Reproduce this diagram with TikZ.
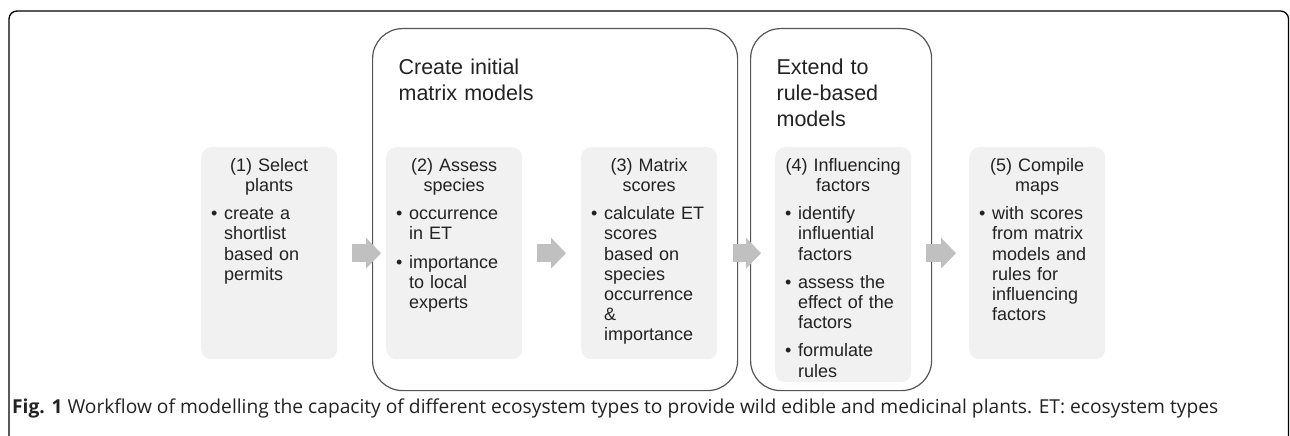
\documentclass[tikz,border=0pt]{standalone}
\usepackage{fontspec}
\setmainfont{Liberation Sans}
\newfontfamily\capfont{Open Sans}
\usetikzlibrary{arrows.meta}
\definecolor{boxgray}{HTML}{F1F1F1}
\definecolor{arrowgray}{HTML}{C0C0C0}
\definecolor{linegray}{HTML}{555555}
\definecolor{textgray}{HTML}{222222}
\newcommand{\bpoint}[1]{\par\vspace{8pt}\noindent\makebox[13pt][l]{\textbullet}\parbox[t]{103pt}{#1\strut}\par\prevdepth=\dp\strutbox}

\begin{document}
\begin{tikzpicture}[x=1pt,y=-1pt,
  stepbox/.style={fill=boxgray,rounded corners=10pt,anchor=north west,
    text width=116pt,inner xsep=10pt,inner ysep=8pt,text height=16pt,text depth=180pt,
    text=textgray,font=\fontsize{18pt}{20.2pt}\selectfont},
  groupbox/.style={draw=linegray,line width=1.2pt,rounded corners=30pt,anchor=north west,
    inner xsep=26pt,inner ysep=26pt,text height=20pt,align=left,
    text=textgray,font=\fontsize{21.5pt}{26pt}\selectfont},
  flow/.style={arrowgray,line width=18pt,-{Triangle[length=15pt,width=31pt,line width=0pt]}}]
  \useasboundingbox (0,0) rectangle (1290,436);
  \draw[line width=1.3pt,rounded corners=8pt] (9,437) -- (9,11) -- (1288.5,11) -- (1288.5,437);
  \node[groupbox,text width=313pt,text depth=290pt] (g1) at (372,28) {Create initial\\matrix models};
  \node[groupbox,text width=129pt,text depth=290pt] (g2) at (750,28) {Extend to\\rule-based\\models};
  \node[stepbox] (s1) at (201,147) {{\centering (1) Select\\plants\par}
    \bpoint{create a\\shortlist\\based on\\permits}};
  \node[stepbox] (s2) at (386,147) {{\centering (2) Assess\\species\par}
    \bpoint{occurrence\\in ET}
    \bpoint{importance\\to local\\experts}};
  \node[stepbox] (s3) at (581,147) {{\centering (3) Matrix\\scores\par}
    \bpoint{calculate ET\\scores\\based on\\species\\occurrence\\\&\\importance}};
  \node[stepbox,text depth=203pt] (s4) at (775,147) {{\centering (4) Influencing\\factors\par}
    \bpoint{identify\\influential\\factors}
    \bpoint{assess the\\effect of the\\factors}
    \bpoint{formulate\\rules}};
  \node[stepbox] (s5) at (969,147) {{\centering (5) Compile\\maps\par}
    \bpoint{with scores\\from matrix\\models and\\rules for\\influencing\\factors}};
  \draw[flow,shorten <=15pt,shorten >=5pt] (s1) -- (s2);
  \draw[flow,shorten <=15pt,shorten >=15pt] (s2) -- (s3);
  \draw[flow,shorten <=16pt,shorten >=14pt] (s3.east) -- (s3.east -| s4.west);
  \draw[flow,shorten <=15pt,shorten >=13pt] (s4.east |- s5.west) -- (s5.west);
  \node[anchor=base west,inner sep=0pt,text=textgray,font=\capfont\fontsize{19.2pt}{23pt}\selectfont] (cap) at (12,413)
    {\textbf{Fig. 1} Workflow of modelling the capacity of different ecosystem types to provide wild edible and medicinal plants. ET: ecosystem types};
\end{tikzpicture}
\end{document}
